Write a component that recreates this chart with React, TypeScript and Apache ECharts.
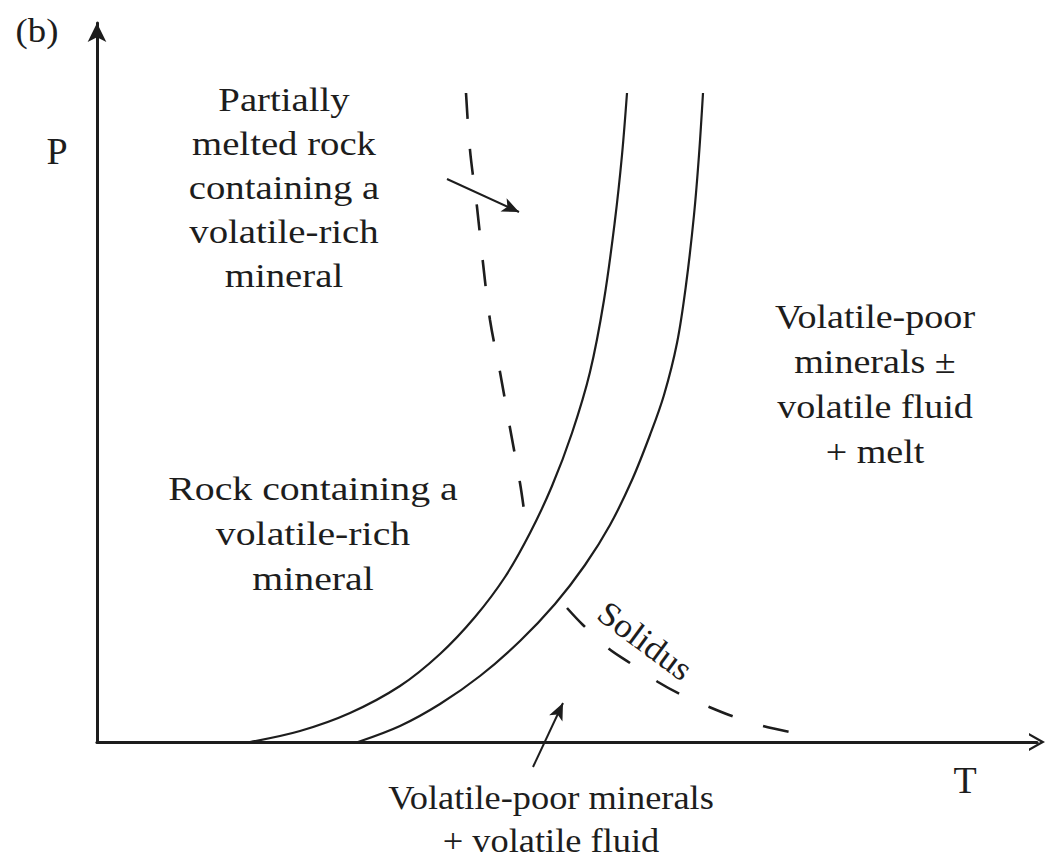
import React, { useEffect, useRef } from "react";
import * as echarts from "echarts";

// Schematic P–T diagram, arbitrary units (T to the right, P upward, origin at the axes' corner)
const leftBoundaryT = [153, 203, 253, 303, 343, 378, 408, 433, 455, 475, 493, 507, 518, 525, 530];
const leftBoundaryP = [0, 11, 29, 56, 88, 125, 165, 209, 256, 309, 370, 442, 522, 587, 649];

const rightBoundaryT = [261, 303, 343, 383, 423, 458, 488, 513, 535, 553, 567, 580, 589, 597, 602, 606];
const rightBoundaryP = [0, 16, 38, 66, 101, 138, 177, 217, 262, 307, 347, 399, 457, 527, 587, 649];

const breakdownT = [369, 373, 380, 386, 393, 403, 413, 423, 427];
const breakdownP = [649, 592, 535, 479, 422, 370, 314, 259, 232];

const solidusT = [470, 486, 511, 533, 561, 585, 610, 635, 666, 693];
const solidusP = [134, 117, 94, 79, 60, 47, 36, 26, 16, 10];

// annotation arrows: [fromT, fromP, toT, toP]
const arrowPartialMelt = [350, 563, 422, 530];
const arrowFluidBand = [436, -25, 466, 39];

const labelFigure = "(b)";
const labelP = "P";
const labelT = "T";
const labelPartialMelt = ["Partially", "melted rock", "containing a", "volatile-rich", "mineral"];
const labelRock = ["Rock containing a", "volatile-rich", "mineral"];
const labelMelt = ["Volatile-poor", "minerals \u00b1", "volatile fluid", "+ melt"];
const labelFluid = ["Volatile-poor minerals", "+ volatile fluid"];
const labelSolidus = "Solidus";

export default function App() {
  const ref = useRef<HTMLDivElement>(null);

  useEffect(() => {
    const chart = echarts.init(ref.current as HTMLDivElement, null, { renderer: "svg" });
    const pairs = (xs: number[], ys: number[]) => xs.map((x, i) => [x, ys[i]]);
    const ink = "#1d1d1d";
    const serif = "'Liberation Serif', 'DejaVu Serif', serif";

    const txt = (text: string, x: number, y: number, size: number, extra: any = {}) => ({
      type: "text",
      x,
      y,
      silent: true,
      rotation: extra.rotation || 0,
      scaleX: extra.scaleX || 1,
      style: {
        text,
        fontSize: size,
        fontFamily: serif,
        fontStyle: extra.italic ? "italic" : "normal",
        fill: ink,
        lineHeight: extra.lineHeight || size,
        align: "center",
        textAlign: "center",
        verticalAlign: "middle",
        textVerticalAlign: "middle",
      },
    });

    const curve = (xs: number[], ys: number[], width: number, type: any) => ({
      type: "line",
      xAxisIndex: 0,
      yAxisIndex: 0,
      data: pairs(xs, ys),
      smooth: 0.35,
      symbol: "none",
      silent: true,
      lineStyle: { color: ink, width, type, cap: "butt" },
    });

    chart.setOption({
      animation: false,
      backgroundColor: "#ffffff",
      grid: [
        { left: 97, right: 11, top: 23, bottom: 122, containLabel: false, outerBoundsMode: "none" },
        { left: 0, right: 0, top: 0, bottom: 0, containLabel: false, outerBoundsMode: "none" },
      ],
      xAxis: [
        {
          type: "value",
          gridIndex: 0,
          min: 0,
          max: 940,
          axisLine: {
            show: true,
            onZero: false,
            symbol: ["none", "path://M0,16 L9,0 L18,16 L15.6,16 L9,4.6 L2.4,16 Z"],
            symbolSize: [18, 16],
            lineStyle: { color: ink, width: 3.2 },
          },
          axisTick: { show: false },
          axisLabel: { show: false },
          splitLine: { show: false },
        },
        { type: "value", gridIndex: 1, min: -97, max: 951, show: false },
      ],
      yAxis: [
        {
          type: "value",
          gridIndex: 0,
          min: 0,
          max: 719,
          axisLine: {
            show: true,
            onZero: false,
            symbol: ["none", "arrow"],
            symbolSize: [14, 19],
            lineStyle: { color: ink, width: 3 },
          },
          axisTick: { show: false },
          axisLabel: { show: false },
          splitLine: { show: false },
        },
        { type: "value", gridIndex: 1, min: -122, max: 742, show: false },
      ],
      series: [
        curve(leftBoundaryT, leftBoundaryP, 2.2, "solid"),
        curve(rightBoundaryT, rightBoundaryP, 2.2, "solid"),
        curve(breakdownT, breakdownP, 2.6, [26, 30]),
        curve(solidusT, solidusP, 2.6, [26, 32]),
        {
          type: "line",
          xAxisIndex: 1,
          yAxisIndex: 1,
          data: [],
          symbol: "none",
          markLine: {
            silent: true,
            symbol: ["none", "arrow"],
            symbolSize: [11, 17],
            label: { show: false },
            emphasis: { disabled: true },
            lineStyle: { color: ink, width: 2, type: "solid" },
            data: [
              [
                { coord: [arrowPartialMelt[0], arrowPartialMelt[1]], lineStyle: { curveness: 0.12 } },
                { coord: [arrowPartialMelt[2], arrowPartialMelt[3]] },
              ],
              [
                { coord: [arrowFluidBand[0], arrowFluidBand[1]], lineStyle: { curveness: 0 } },
                { coord: [arrowFluidBand[2], arrowFluidBand[3]] },
              ],
            ],
          },
        },
      ],
      graphic: [
        txt(labelFigure, 37, 30, 34, { scaleX: 1.08 }),
        txt(labelP, 57, 151, 38),
        txt(labelT, 965, 780, 38),
        txt(labelPartialMelt.join("\n"), 284, 188, 34, { lineHeight: 44, scaleX: 1.14 }),
        txt(labelRock.join("\n"), 313, 534, 34, { lineHeight: 45, scaleX: 1.17 }),
        txt(labelMelt.join("\n"), 875, 384, 34, { lineHeight: 45, scaleX: 1.12 }),
        txt(labelFluid.join("\n"), 551, 819, 34, { lineHeight: 43, scaleX: 1.07 }),
        txt(labelSolidus, 645, 641, 34, { rotation: -0.64, scaleX: 1.06 }),
      ],
    });

    return () => chart.dispose();
  }, []);

  return (
    <div
      ref={ref}
      style={{ position: "fixed", left: 0, top: 0, width: 1048, height: 864, background: "#fff" }}
    />
  );
}
